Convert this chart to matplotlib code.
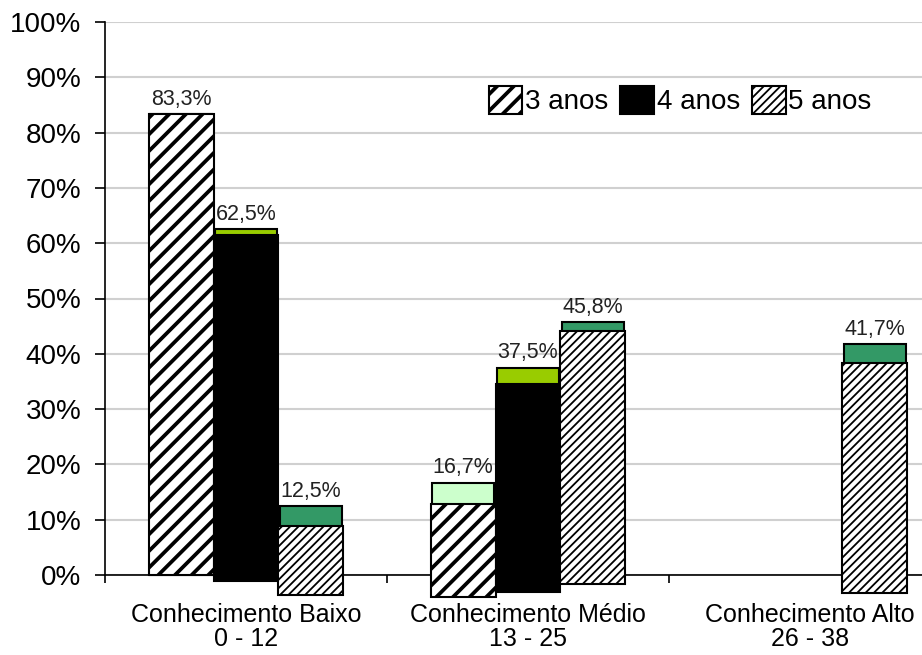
import numpy as np
import matplotlib
matplotlib.use("Agg")
import matplotlib.pyplot as plt
from matplotlib.patches import Patch

plt.rcParams['font.family'] = ['Liberation Sans', 'DejaVu Sans']

# data
categories = ["Conhecimento Baixo\n0 - 12", "Conhecimento Médio\n13 - 25",
              "Conhecimento Alto\n26 - 38"]
series = ["3 anos", "4 anos", "5 anos"]
anos3 = [83.3, 16.7, None]
anos4 = [62.5, 37.5, None]
anos5 = [12.5, 45.8, 41.7]
labels3 = ["83,3%", "16,7%", ""]
labels4 = ["62,5%", "37,5%", ""]
labels5 = ["12,5%", "45,8%", "41,7%"]

# style: the bodies of the bars sit a bit lower than the coloured caps
drop = [[0.0, 3.9, 0.0], [1.0, 3.0, 0.0], [3.7, 1.7, 3.3]]
cap_colors = ["#CCFFCC", "#99CC00", "#339966"]
body_face = ["white", "black", "white"]
body_hatch = ["//", None, "////"]
hatch_lw = [2.7, 1.0, 1.3]
offsets = [-0.23, 0.0, 0.23]
width = 0.23

fig = plt.figure(figsize=(9.22, 6.55), dpi=100)
ax = fig.add_axes([105 / 922, 80 / 655, 1 - 105 / 922, 553 / 655])

x = np.arange(len(categories))
values = [anos3, anos4, anos5]
labels = [labels3, labels4, labels5]


def set_hlw(patch, lw):
    try:
        patch.set_hatch_linewidth(lw)
    except AttributeError:
        plt.rcParams['hatch.linewidth'] = lw


for s in range(3):
    for i in range(len(categories)):
        v = values[s][i]
        if v is None:
            continue
        xc = x[i] + offsets[s]
        ax.bar(xc, v, width=width * 0.95, color=cap_colors[s],
               edgecolor="black", linewidth=1.5, clip_on=False, zorder=2)
        with plt.rc_context({'hatch.linewidth': hatch_lw[s]}):
            body = ax.bar(xc, v, width=width, bottom=-drop[s][i],
                          color=body_face[s], edgecolor="black", linewidth=1.5,
                          hatch=body_hatch[s], clip_on=False, zorder=3)
        for p in body:
            set_hlw(p, hatch_lw[s])
        ax.annotate(labels[s][i], xy=(xc, v), xytext=(0, 3),
                    textcoords="offset points", ha="center", va="bottom",
                    fontsize=15.5, color="#222222", zorder=5)

ax.set_ylim(0, 100)
ax.set_xlim(-0.5, 2.397)
ax.set_yticks(np.arange(0, 101, 10))
ax.set_yticklabels([f"{t}%" for t in range(0, 101, 10)], fontsize=20)
ax.yaxis.grid(True, color="#D0D0D0", linewidth=1.5, zorder=0)
ax.set_axisbelow(True)

ax.set_xticks(x)
ax.set_xticklabels(categories, fontsize=18, linespacing=1.0)
ax.set_xticks([-0.5, 0.5, 1.5], minor=True)
ax.tick_params(axis="x", which="major", length=0, pad=20)
ax.tick_params(axis="x", which="minor", length=6, width=1.2, direction="out")
ax.tick_params(axis="y", length=7, width=1.2, pad=10)

for side in ["top", "right"]:
    ax.spines[side].set_visible(False)
ax.spines["left"].set_linewidth(1.2)
ax.spines["bottom"].set_linewidth(1.2)

handles = []
for s in range(3):
    with plt.rc_context({'hatch.linewidth': hatch_lw[s]}):
        h = Patch(facecolor=body_face[s], edgecolor="black",
                  hatch=body_hatch[s], linewidth=1.5, label=series[s])
    handles.append(h)
leg = ax.legend(handles=handles, ncol=3, loc="upper right",
                bbox_to_anchor=(0.952, 0.905), frameon=False, fontsize=20,
                handlelength=1.2, handleheight=1.2, handletextpad=0.1,
                columnspacing=0.45, borderaxespad=0)
for p, s in zip(leg.get_patches(), range(3)):
    set_hlw(p, hatch_lw[s])

fig.savefig("out.png", dpi=100)
